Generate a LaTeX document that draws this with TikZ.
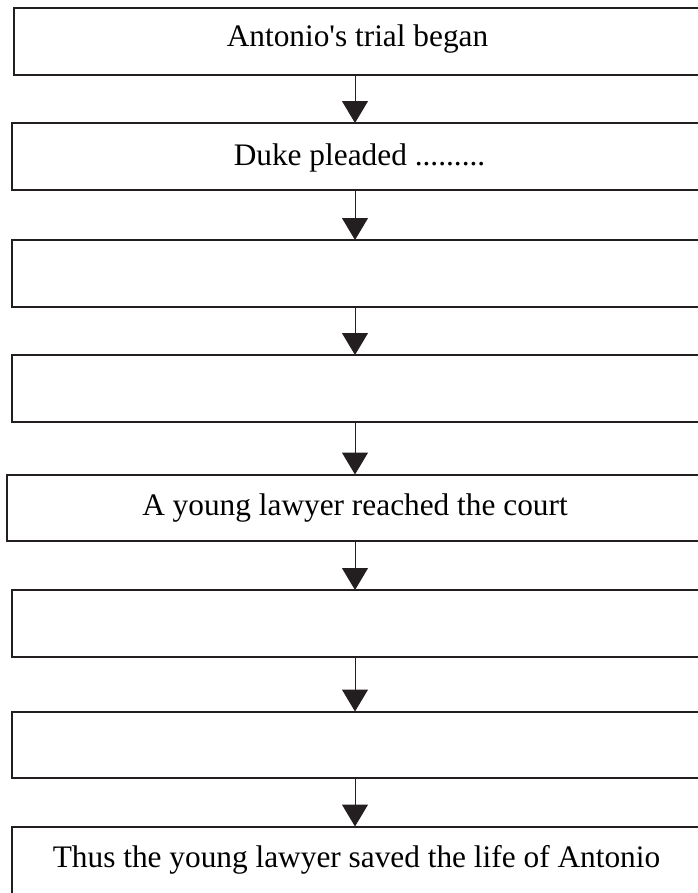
\documentclass[tikz,border=0pt]{standalone}
\usepackage{fontspec}
\setmainfont{Liberation Serif}
\usetikzlibrary{arrows.meta}
\definecolor{ink}{HTML}{231F20}
\tikzset{
  flowbox/.style={draw=ink, line width=1.5pt, rectangle, inner sep=0pt, outer sep=0pt, anchor=north west, minimum height=49.875pt},
  flowtext/.style={anchor=base, inner sep=0pt, font=\fontsize{23.5pt}{28pt}\selectfont, text=black},
  flowarrow/.style={draw=ink, line width=0.75pt, -{Triangle[length=16.5pt,width=19.5pt]}}
}
\begin{document}
\begin{tikzpicture}[x=0.75pt, y=-0.75pt]
\useasboundingbox (0,0) rectangle (698,893);
\clip (0,0) rectangle (698,893);
\node[flowbox, minimum width=522pt] (b1) at (14,8) {};
\node[flowbox, minimum width=523.9pt] (b2) at (11.5,123) {};
\node[flowbox, minimum width=523.9pt] (b3) at (11.5,240) {};
\node[flowbox, minimum width=523.9pt] (b4) at (11.5,355) {};
\node[flowbox, minimum width=527.25pt] (b5) at (7,474.5) {};
\node[flowbox, minimum width=523.9pt] (b6) at (11.5,590) {};
\node[flowbox, minimum width=523.7pt] (b7) at (11.7,711.5) {};
\node[flowbox, minimum width=523.5pt, minimum height=60pt] (b8) at (12,826.5) {};
\node[flowtext] (t1) at (357.5,46.7) {Antonio\textquotesingle s trial began};
\node[flowtext] (t2) at (359.5,165) {Duke pleaded .........};
\node[flowtext] (t5) at (355,515.5) {A young lawyer reached the court};
\node[flowtext] (t8) at (356.5,867.7) {Thus the young lawyer saved the life of Antonio};
\coordinate (ax) at (355,0);
\draw[flowarrow] (b1.south -| ax) -- (b2.north -| ax);
\draw[flowarrow] (b2.south -| ax) -- (b3.north -| ax);
\draw[flowarrow] (b3.south -| ax) -- (b4.north -| ax);
\draw[flowarrow] (b4.south -| ax) -- (b5.north -| ax);
\draw[flowarrow] (b5.south -| ax) -- (b6.north -| ax);
\draw[flowarrow] (b6.south -| ax) -- (b7.north -| ax);
\draw[flowarrow] (b7.south -| ax) -- (b8.north -| ax);
\end{tikzpicture}
\end{document}
